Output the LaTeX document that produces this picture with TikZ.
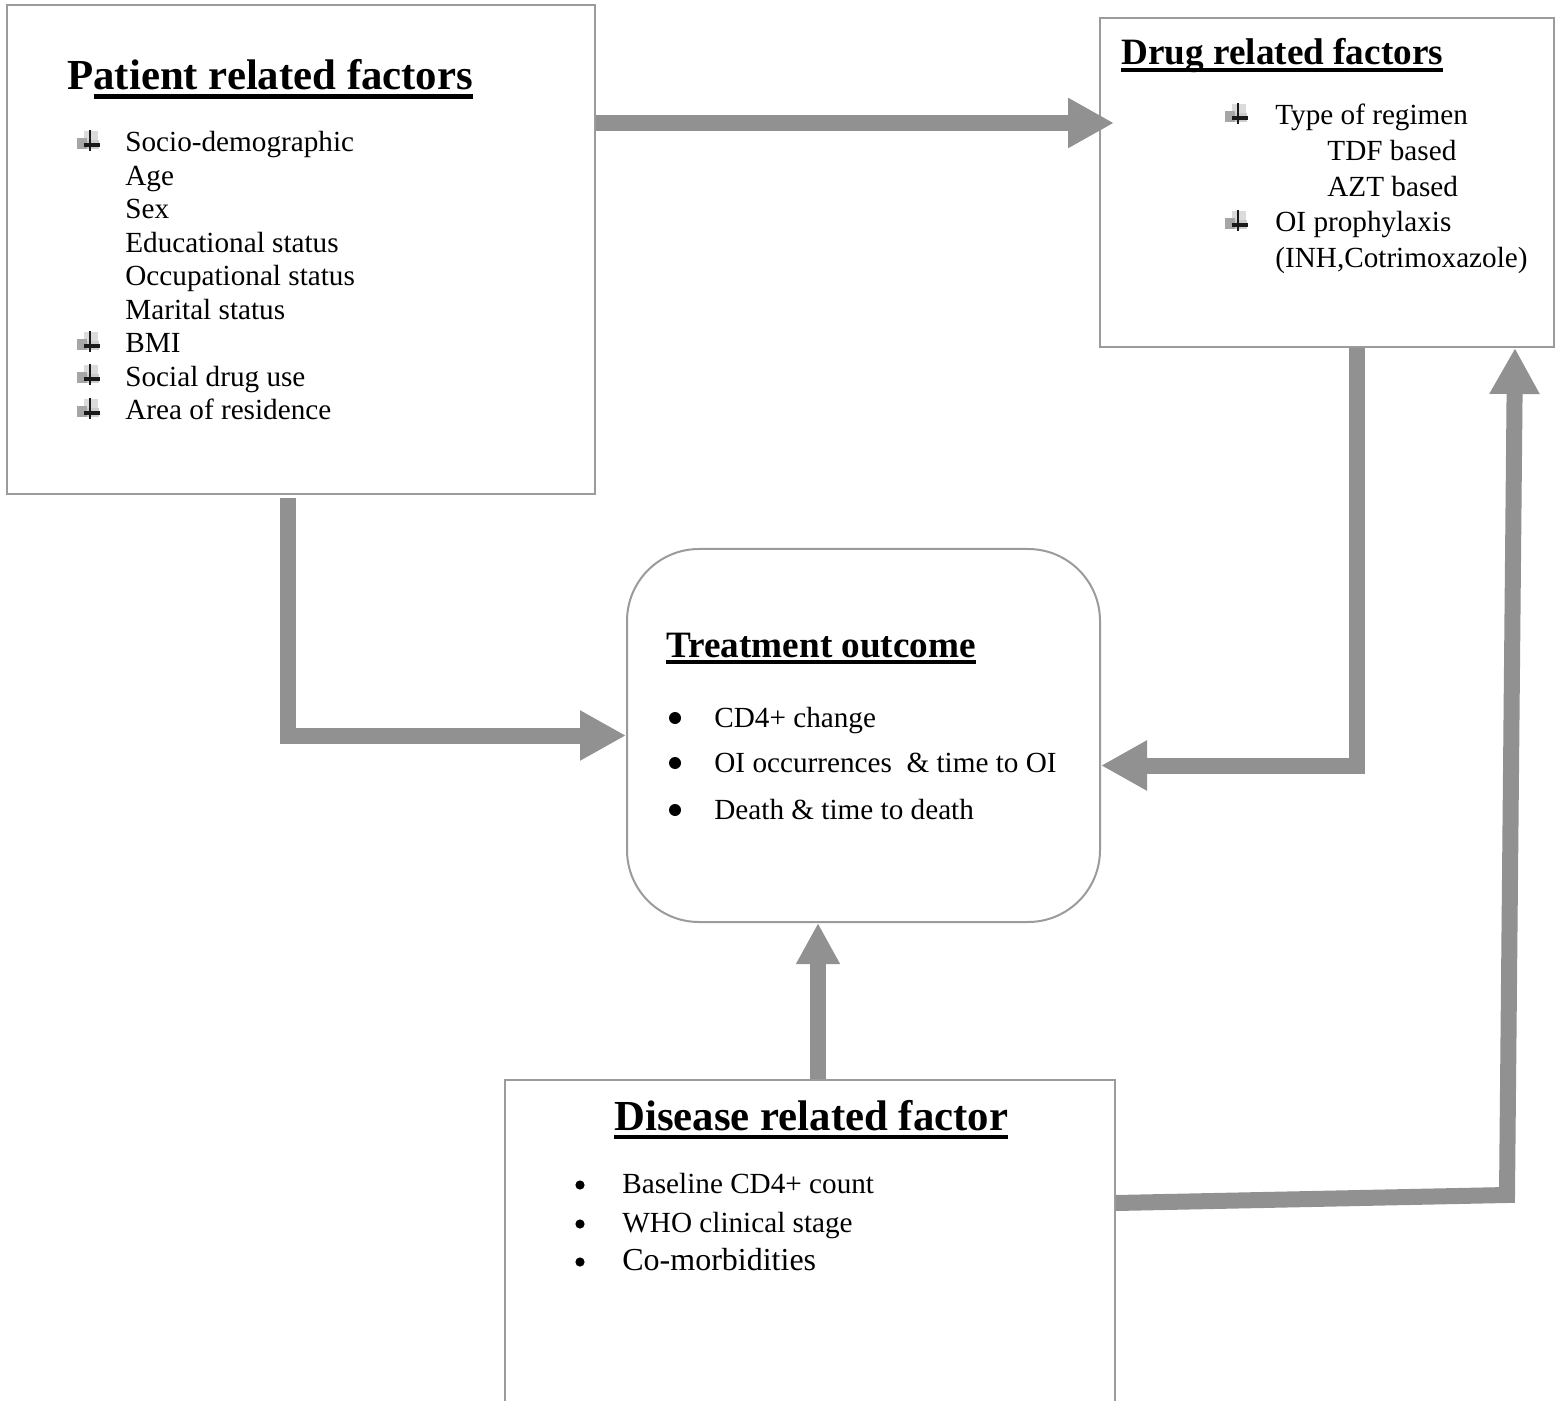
\documentclass[tikz,border=0pt]{standalone}
\usepackage{fontspec}
\setmainfont{Liberation Serif}
\usetikzlibrary{arrows.meta,fit,calc}
\definecolor{arrowgray}{RGB}{145,145,145}
\definecolor{boxgray}{RGB}{155,155,155}
\newcommand\bodyfont{\fontsize{14.6}{17}\selectfont}
\newcommand\bigtitle{\fontsize{21.4}{25}\selectfont\bfseries}
\newcommand\midtitle{\fontsize{18.6}{22}\selectfont\bfseries}
\newcommand\ulx[3]{\setbox0\hbox{#3}\rlap{\rule[-#1]{\wd0}{#2}}\box0}
\tikzset{
  boxst/.style={draw=boxgray, line width=1pt, inner sep=0pt},
  connst/.style={draw=arrowgray, line width=8pt, line join=miter,
    -{Triangle[length=23pt,width=23.5pt]}},
  upconn/.style={draw=arrowgray, line width=8pt,
    -{Triangle[length=20.5pt,width=20.5pt]}},
  txtst/.style={inner sep=0pt, anchor=base west, font=\bodyfont},
  dotbig/.style={circle, fill=black, inner sep=0pt, minimum size=6pt},
  dotsmall/.style={circle, fill=black, inner sep=0pt, minimum size=4.6pt},
  dicon/.pic={
    \fill[black!14] (-6,-21) rectangle (8,-12);
    \fill[black!35] (-13,-14) rectangle (-3,-3);
    \fill[black!20] (-3,-12) rectangle (9,-3);
    \draw[line width=1.3pt, black!90] (0,-22) -- (0,-1);
    \draw[line width=2pt, black!90] (-6,-7) -- (10,-7);
  }
}
\begin{document}
\begin{tikzpicture}[x=0.5pt,y=-0.5pt]
\useasboundingbox (0,0) rectangle (1559,1401);
\clip (0,0) rectangle (1559,1401);
\fill[white] (0,0) rectangle (1559,1401);

% boxes
\node[boxst, fit={(7,5) (595,494)}] (pat) {};
\node[boxst, fit={(1100,18) (1554,347)}] (drug) {};
\node[boxst, rounded corners=36pt, fit={(627,549) (1100,922)}] (out) {};
\node[boxst, fit={(505,1080) (1115,1460)}] (dis) {};

% patient box text
\node[txtst, font=\bigtitle] (pt) at (67,90) {P\ulx{4.6pt}{2.4pt}{atient related factors}};
\node[txtst] (p0) at (125,152) {Socio-demographic};
\node[txtst] (p1) at (125,185.5) {Age};
\node[txtst] (p2) at (125,219) {Sex};
\node[txtst] (p3) at (125,252.5) {Educational status};
\node[txtst] (p4) at (125,286) {Occupational status};
\node[txtst] (p5) at (125,319.5) {Marital status};
\node[txtst] (p6) at (125,353) {BMI};
\node[txtst] (p7) at (125,386.5) {Social drug use};
\node[txtst] (p8) at (125,420) {Area of residence};
\pic at (90,152) {dicon};
\pic at (90,353) {dicon};
\pic at (90,386.5) {dicon};
\pic at (90,420) {dicon};

% drug box text
\node[txtst, font=\midtitle] (dt) at (1121,65) {\ulx{3.6pt}{2pt}{Drug related factors}};
\node[txtst] (d0) at (1275,125) {Type of regimen};
\node[txtst] (d1) at (1327,160.5) {TDF based};
\node[txtst] (d2) at (1327,196.5) {AZT based};
\node[txtst] (d3) at (1275,232) {OI prophylaxis};
\node[txtst] (d4) at (1275,268) {(INH,Cotrimoxazole)};
\pic at (1238,125) {dicon};
\pic at (1238,232) {dicon};

% treatment outcome text
\node[txtst, font=\midtitle] (ot) at (666,657) {\ulx{3.6pt}{2pt}{Treatment outcome}};
\node[dotbig] (ob0) at (675,718) {};
\node[dotbig] (ob1) at (675,763) {};
\node[dotbig] (ob2) at (675,810) {};
\node[txtst] (o0) at (714,727) {CD4+ change};
\node[txtst] (o1) at (714,772) {OI occurrences\ \ \& time to OI};
\node[txtst] (o2) at (714,819) {Death \& time to death};

% disease box text
\node[txtst, font=\bigtitle] (xt) at (614,1130) {\ulx{4.6pt}{2pt}{Disease related factor}};
\node[dotsmall] (xb0) at (580,1185) {};
\node[dotsmall] (xb1) at (580,1224) {};
\node[dotsmall] (xb2) at (580,1262) {};
\node[txtst] (x0) at (622,1193) {Baseline CD4+ count};
\node[txtst] (x1) at (622,1232) {WHO clinical stage};
\node[txtst, font=\fontsize{16}{19}\selectfont] (x2) at (622,1270) {Co-morbidities};

% connectors
\coordinate (ty) at (0,123);
\coordinate (cx) at (818,0);
\coordinate (c1) at (1507,1195);
\draw[connst] (pat.east |- ty) -- ($(drug.west |- ty)+(15,0)$);
\draw[connst] ($(pat.south)+(-13,3)$) |- (out.west);
\draw[connst] ($(drug.south)+(30,0)$) |- ($(out.east)+(0,30)$);
\draw[upconn] (dis.north -| cx) -- (out.south -| cx);
\draw[connst] ($(dis.east)+(0,-67)$) -- (c1) -- ($(drug.south)+(188,0)$);
\end{tikzpicture}
\end{document}
